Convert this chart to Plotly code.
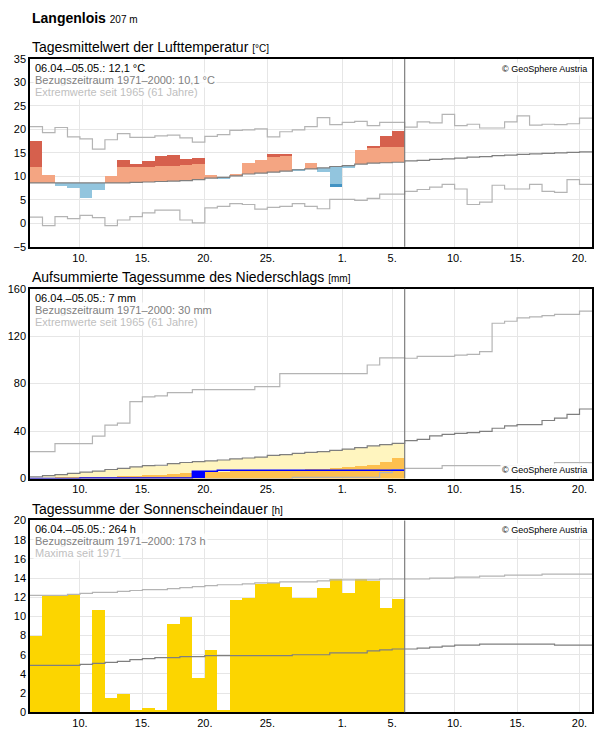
import plotly.graph_objects as go

# day index 0 = 06.04., observed days 0..29, outlook to day 44
days = list(range(45))
tick_days = [4, 9, 14, 19, 25, 29, 34, 39, 44]
tick_text = ["10.", "15.", "20.", "25.", "1.", "5.", "10.", "15.", "20."]

# temperature (°C)
temp_obs = [17.6, 10.2, 7.9, 7.5, 5.3, 7.0, 10.0, 13.5, 12.6, 13.3, 14.3, 14.6, 13.7, 13.9, 10.2,
            9.4, 10.4, 12.8, 13.5, 14.8, 14.6, 11.2, 12.8, 10.9, 7.7, 11.8, 15.6, 16.3, 18.7, 19.6]
temp_clim = [8.6, 8.6, 8.6, 8.6, 8.6, 8.6, 8.6, 8.6, 8.7, 8.8, 8.9, 9.0, 9.1, 9.3, 9.6,
             9.8, 10.1, 10.5, 10.7, 10.9, 11.1, 11.4, 11.6, 11.8, 12.1, 12.3, 12.6, 12.8, 12.9, 13.0,
             13.3, 13.4, 13.6, 13.7, 13.9, 14.1, 14.2, 14.4, 14.5, 14.7, 14.8, 14.9, 15.0, 15.1, 15.2]
temp_max = [20.6, 19.3, 20.4, 18.4, 18.0, 15.8, 17.8, 19.1, 18.3, 18.3, 18.6, 18.8, 18.2, 17.3, 18.5,
            18.9, 19.8, 19.9, 20.1, 18.4, 19.5, 19.9, 20.6, 22.5, 21.0, 21.5, 21.7, 20.8, 21.5, 21.5,
            20.5, 21.6, 21.4, 23.2, 20.8, 21.1, 20.3, 20.3, 21.6, 22.9, 20.9, 21.1, 21.0, 21.2, 22.4]
temp_min = [1.3, -0.5, 1.4, 1.0, 1.7, 1.2, -0.5, 0.7, 1.4, 2.2, 2.8, 2.8, 0.7, 0.1, 3.3,
            3.6, 4.2, 4.0, 3.0, 3.4, 3.6, 4.2, 3.6, 3.1, 5.1, 5.1, 4.9, 5.3, 6.2, 6.2,
            6.8, 7.2, 7.7, 8.3, 7.3, 4.0, 4.5, 8.1, 7.3, 7.3, 8.3, 6.8, 6.6, 9.3, 8.3]
temp_sd_up, temp_sd_down = 3.3, 3.8

# precipitation, cumulative (mm)
rain_obs = [0, 0, 0, 0, 0.4, 0.4, 0.4, 0.4, 0.4, 0.4, 0.4, 0.4, 0.4, 6.2, 6.2,
            7.0, 7.0, 7.0, 7.0, 7.0, 7.0, 7.0, 7.0, 7.0, 7.0, 7.0, 7.0, 7.0, 7.0, 7.0]
rain_low = [0.3, 0.5, 0.7, 0.9, 1.1, 1.4, 1.7, 2.0, 2.6, 3.1, 3.6, 4.2, 4.8, 5.5, 5.8,
            6.0, 6.3, 6.6, 6.8, 7.0, 7.3, 7.6, 8.0, 8.5, 9.0, 9.8, 11.0, 12.0, 14.0, 17.3]
rain_clim = [1.5, 2.4, 3.3, 4.4, 5.4, 6.2, 7.6, 8.5, 9.8, 10.8, 11.2, 12.5, 13.5, 14.2, 14.8,
             15.6, 16.5, 17.3, 18.0, 19.5, 20.1, 21.2, 22.0, 22.7, 23.8, 24.8, 26.0, 27.5, 28.5, 29.7,
             32.0, 33.0, 36.0, 37.2, 38.1, 38.7, 39.8, 42.4, 44.4, 45.5, 45.5, 48.9, 50.9, 54.0, 58.6]
rain_max = [22.6, 22.6, 29.5, 29.5, 29.5, 35.8, 45.0, 46.7, 64.8, 68.8, 69.6, 72.5, 72.5, 75.0, 75.0,
            75.0, 75.0, 75.0, 77.4, 77.4, 88.5, 88.5, 88.5, 88.5, 88.5, 88.5, 88.5, 95.7, 101.7, 101.7,
            101.4, 102.9, 102.9, 102.9, 104.0, 104.6, 106.9, 130.9, 132.6, 135.4, 136.3, 137.4, 138.3, 138.3, 141.1]
rain_min = [0] * 21 + [1.0] * 7 + [5.0, 7.5, 8.6, 8.6, 8.6] + [10.9] * 9 + [13.4] * 3

# sunshine (h)
sun_obs = [7.9, 12.1, 12.1, 12.2, 0, 10.6, 1.4, 1.9, 0.2, 0.4, 0.2, 9.2, 9.9, 3.5, 6.4,
           0.2, 11.7, 11.9, 13.3, 13.4, 13.0, 11.9, 11.9, 12.9, 13.8, 12.4, 13.8, 13.6, 10.8, 11.8]
sun_max = [12.2, 12.2, 12.2, 12.3, 12.4, 12.5, 12.5, 12.6, 12.7, 12.8, 12.8, 12.9, 13.0, 13.1, 13.2,
           13.3, 13.3, 13.4, 13.5, 13.5, 13.6, 13.6, 13.6, 13.7, 13.8, 13.8, 13.8, 13.8, 13.9, 13.9,
           13.9, 13.9, 14.0, 14.0, 14.1, 14.1, 14.2, 14.2, 14.3, 14.3, 14.3, 14.4, 14.4, 14.4, 14.4]
sun_clim = [4.9, 4.9, 4.9, 4.9, 5.0, 5.1, 5.2, 5.3, 5.5, 5.6, 5.7, 5.7, 5.8, 5.8, 5.9,
            5.9, 5.9, 5.9, 5.9, 5.9, 5.9, 6.0, 6.0, 6.0, 6.2, 6.2, 6.2, 6.4, 6.5, 6.6,
            6.6, 6.7, 6.8, 6.9, 7.0, 7.0, 7.1, 7.1, 7.1, 7.1, 7.1, 7.1, 7.0, 7.0, 7.0]

FONT = "Liberation Sans, Arial, sans-serif"
GRID = "#e6e6e6"
H = 729
obs_x = [d + 0.5 for d in range(30)]


def py(p):
    # pixel row (from top) -> paper fraction, corrected for the rendered scale
    return 1 - ((p - 4.97) / 0.9832) / H


fig = go.Figure()


def step(values, color, width, ax):
    fig.add_trace(go.Scatter(x=list(range(len(values) + 1)), y=values + [values[-1]],
                             mode="lines", line=dict(color=color, width=width, shape="hv"),
                             xaxis=ax[0], yaxis=ax[1], hoverinfo="skip"))


def bars(tops, bases, color, ax):
    fig.add_trace(go.Bar(x=obs_x, y=[t - b for t, b in zip(tops, bases)], base=bases, width=1.0,
                         marker=dict(color=color, line_width=0), xaxis=ax[0], yaxis=ax[1]))


# --- temperature panel
a1 = ("x", "y")
clim = temp_clim[:30]
light_top = [min(max(o, c - temp_sd_down), c + temp_sd_up) for o, c in zip(temp_obs, clim)]
warm_light = [max(t, c) for t, c in zip(light_top, clim)]
cold_light = [min(t, c) for t, c in zip(light_top, clim)]
warm_dark = [max(o, c + temp_sd_up) for o, c in zip(temp_obs, clim)]
cold_dark = [min(o, c - temp_sd_down) for o, c in zip(temp_obs, clim)]
bars(warm_light, clim, "#f4a582", a1)
bars(cold_light, clim, "#92c5de", a1)
bars(warm_dark, [c + temp_sd_up for c in clim], "#d6604d", a1)
bars(cold_dark, [c - temp_sd_down for c in clim], "#4393c3", a1)
step(temp_max, "#b4b4b4", 1.2, a1)
step(temp_min, "#b4b4b4", 1.2, a1)
step(temp_clim, "#7f7f7f", 1.2, a1)

# --- precipitation panel
a2 = ("x2", "y2")
bars(rain_clim[:30], [0] * 30, "#fff5bf", a2)
bars(rain_low, [0] * 30, "#fdc04f", a2)
# daily increments of the observed sum drawn as blue blocks
prev = [0] + rain_obs[:-1]
bars(rain_obs, [p if r - p > 2 else r for r, p in zip(rain_obs, prev)], "#0000ff", a2)
step(rain_max, "#b4b4b4", 1.2, a2)
step(rain_min, "#b4b4b4", 1.2, a2)
step(rain_clim, "#7f7f7f", 1.2, a2)
step(rain_obs, "#0000ff", 1.5, a2)

# --- sunshine panel
a3 = ("x3", "y3")
bars(sun_obs, [0] * 30, "#fcd500", a3)
step(sun_max, "#b4b4b4", 1.2, a3)
step(sun_clim, "#7f7f7f", 1.2, a3)

domains = [(py(246), py(58)), (py(478), py(288)), (py(712), py(520))]
yspecs = [(-5, 35, 5), (0, 160, 40), (0, 20, 2)]
layout = dict(width=596, height=H, margin=dict(l=30, r=4, t=0, b=0),
              paper_bgcolor="white", plot_bgcolor="white", showlegend=False,
              barmode="overlay", bargap=0, font=dict(family=FONT, size=11, color="black"))
for i, (dom, (lo, hi, dt)) in enumerate(zip(domains, yspecs)):
    sfx = "" if i == 0 else str(i + 1)
    layout["xaxis" + sfx] = dict(range=[0, 45], tickvals=tick_days, ticktext=tick_text,
                                 showgrid=True, gridcolor=GRID, showline=True, linecolor="black",
                                 linewidth=1.5, mirror=True, ticks="", zeroline=False,
                                 anchor="y" + sfx, tickfont=dict(size=11))
    layout["yaxis" + sfx] = dict(range=[lo, hi], dtick=dt, domain=list(dom), showgrid=True,
                                 gridcolor=GRID, showline=True, linecolor="black", linewidth=1.5,
                                 mirror=True, ticks="", zeroline=False, anchor="x" + sfx,
                                 tickfont=dict(size=11))
fig.update_layout(**layout)

shapes = []
for i in range(3):
    sfx = "" if i == 0 else str(i + 1)
    shapes.append(dict(type="line", xref="x" + sfx, yref="y" + sfx + " domain", x0=30, x1=30,
                       y0=0, y1=1, line=dict(color="#7f7f7f", width=1.2)))
fig.update_layout(shapes=shapes)

annos = [
    dict(x=0, y=py(7), xref="paper", yref="paper",
         text="<b>Langenlois</b> <span style='font-size:10px'>207 m</span>", font=dict(size=14)),
    dict(x=0, y=py(36), xref="paper", yref="paper",
         text="Tagesmittelwert der Lufttemperatur <span style='font-size:10px'>[°C]</span>", font=dict(size=14)),
    dict(x=0, y=py(266), xref="paper", yref="paper",
         text="Aufsummierte Tagessumme des Niederschlags <span style='font-size:10px'>[mm]</span>", font=dict(size=14)),
    dict(x=0, y=py(498), xref="paper", yref="paper",
         text="Tagessumme der Sonnenscheindauer <span style='font-size:10px'>[h]</span>", font=dict(size=14)),
]
infos = [
    ("06.04.–05.05.: 12,1 °C", "Bezugszeitraum 1971–2000: 10,1 °C", "Extremwerte seit 1965 (61 Jahre)"),
    ("06.04.–05.05.: 7 mm", "Bezugszeitraum 1971–2000: 30 mm", "Extremwerte seit 1965 (61 Jahre)"),
    ("06.04.–05.05.: 264 h", "Bezugszeitraum 1971–2000: 173 h", "Maxima seit 1971"),
]
for i, lines in enumerate(infos):
    sfx = "" if i == 0 else str(i + 1)
    for j, (txt, col) in enumerate(zip(lines, ["black", "#808080", "#c0c0c0"])):
        annos.append(dict(x=0.005, y=1, xref="x" + sfx + " domain", yref="y" + sfx + " domain",
                          yshift=-1 - 12 * j, text=txt, font=dict(size=11, color=col),
                          bgcolor="rgba(255,255,255,0.8)"))
    cy = 0 if i == 1 else 1
    annos.append(dict(x=0.995, y=cy, xref="x" + sfx + " domain", yref="y" + sfx + " domain",
                      xanchor="right", yanchor="bottom" if cy == 0 else "top", yshift=2 if cy == 0 else -3,
                      text="© GeoSphere Austria", font=dict(size=9), showarrow=False,
                      bgcolor="rgba(255,255,255,0.9)"))
for a in annos:
    a.setdefault("xanchor", "left")
    a.setdefault("yanchor", "top")
    a.setdefault("showarrow", False)
fig.update_layout(annotations=annos)

fig.write_html("out.html", config={"displayModeBar": False},
               post_script="document.body.style.margin='0';")
